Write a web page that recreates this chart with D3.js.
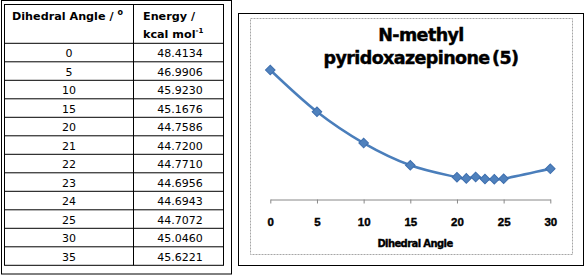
<!DOCTYPE html>
<html>
<head>
<meta charset="utf-8">
<script src="https://cdn.jsdelivr.net/npm/d3@7"></script>
<style>
  body { margin: 0; background: #fff; }
  svg { display: block; }
</style>
</head>
<body>
<div class="svg-container"></div>
<script>
// table + chart data
const angles = [0, 5, 10, 15, 20, 21, 22, 23, 24, 25, 30, 35];
const energies = [48.4134, 46.9906, 45.9230, 45.1676, 44.7586, 44.7200, 44.7710, 44.6956, 44.6943, 44.7072, 45.0460, 45.6221];
const xTicks = [0, 5, 10, 15, 20, 25, 30];
const chartTitle = ["N-methyl", "pyridoxazepinone (5)"];
const xTitle = "Dihedral Angle";
const maxPlotted = 30;

const W = 586, H = 277;
const svg = d3.select("div.svg-container").append("svg")
    .attr("width", W).attr("height", H);

// ---- table ----
const tbl = { left: 4.5, top: 4.5, right: 223.5, headH: 38.8, rowH: 18.5, split: 133.5 };
const tblBottom = tbl.top + tbl.headH + angles.length * tbl.rowH;

svg.append("rect").attr("x", 1.5).attr("y", 0.5).attr("width", 230).attr("height", 273.5)
    .attr("fill", "none").attr("stroke", "#000");

const t = svg.append("g").attr("font-family", "DejaVu Sans, sans-serif").attr("fill", "#000");

t.append("rect").attr("x", tbl.left).attr("y", tbl.top)
    .attr("width", tbl.right - tbl.left).attr("height", tblBottom - tbl.top)
    .attr("fill", "none").attr("stroke", "#000");
t.append("line").attr("x1", tbl.split).attr("x2", tbl.split)
    .attr("y1", tbl.top).attr("y2", tblBottom).attr("stroke", "#000");

const rowY = i => tbl.top + tbl.headH + i * tbl.rowH;
t.selectAll("line.row").data(angles).join("line").attr("class", "row")
    .attr("x1", tbl.left).attr("x2", tbl.right)
    .attr("y1", (d, i) => rowY(i)).attr("y2", (d, i) => rowY(i))
    .attr("stroke", "#000");

// header
const h1 = t.append("text").attr("x", 12).attr("y", 20).attr("font-size", 11.2).attr("font-weight", "bold");
h1.append("tspan").text("Dihedral Angle / ");
h1.append("tspan").attr("font-size", 8).attr("dy", -5).text("o");

t.append("text").attr("x", 143).attr("y", 20).attr("font-size", 11.2).attr("font-weight", "bold").text("Energy /");
const h2 = t.append("text").attr("x", 143).attr("y", 38).attr("font-size", 11.2).attr("font-weight", "bold");
h2.append("tspan").text("kcal mol");
h2.append("tspan").attr("font-size", 7).attr("dy", -5).text("-1");

t.selectAll("text.ang").data(angles).join("text").attr("class", "ang")
    .attr("x", (tbl.left + tbl.split) / 2).attr("y", (d, i) => rowY(i) + 14)
    .attr("text-anchor", "middle").attr("font-size", 11).text(d => d);
t.selectAll("text.en").data(energies).join("text").attr("class", "en")
    .attr("x", 180).attr("y", (d, i) => rowY(i) + 14)
    .attr("text-anchor", "middle").attr("font-size", 11).text(d => d.toFixed(4));

// ---- chart ----
svg.append("rect").attr("x", 238.5).attr("y", 13.5).attr("width", 345).attr("height", 252)
    .attr("fill", "#fff").attr("stroke", "#000");
svg.append("rect").attr("x", 250.5).attr("y", 18.5).attr("width", 322).attr("height", 236)
    .attr("fill", "none").attr("stroke", "#a6a6a6").attr("stroke-dasharray", "2,1");

const x = d3.scaleLinear().domain([0, 30]).range([270.3, 550.3]);
const y = d3.scaleLinear().domain([44, 49]).range([199.5, 52.8]);

const title = svg.append("text").attr("text-anchor", "middle")
    .attr("font-family", "DejaVu Sans, sans-serif").attr("font-weight", "bold")
    .attr("font-size", 17.5).attr("letter-spacing", -0.6).attr("word-spacing", -3)
    .attr("stroke", "#000").attr("stroke-width", 0.45);
title.selectAll("tspan").data(chartTitle).join("tspan")
    .attr("x", 421).attr("y", (d, i) => 41 + i * 23).text(d => d);

const xAxis = d3.axisBottom(x).tickValues(xTicks).tickSize(4).tickSizeOuter(0);
const xAxisG = svg.append("g").attr("transform", `translate(0, ${y(44)})`).call(xAxis);
xAxisG.select(".domain").attr("stroke", "#888");
xAxisG.selectAll(".tick line").attr("stroke", "#888");
xAxisG.selectAll(".tick text")
    .attr("y", 22).attr("dy", "0.35em")
    .attr("font-family", "Liberation Sans, Arial, sans-serif")
    .attr("font-weight", "bold").attr("font-size", 11.5).attr("fill", "#000")
    .attr("stroke", "#000").attr("stroke-width", 0.4);

svg.append("text").attr("x", 415).attr("y", 247).attr("text-anchor", "middle")
    .attr("font-family", "DejaVu Sans, sans-serif").attr("font-weight", "bold")
    .attr("font-size", 10).attr("letter-spacing", -0.6)
    .attr("stroke", "#000").attr("stroke-width", 0.35).text(xTitle);

const pts = angles.map((a, i) => ({ a: a, e: energies[i] })).filter(d => d.a <= maxPlotted);

const line = d3.line().x(d => x(d.a)).y(d => y(d.e)).curve(d3.curveCardinal.tension(0));
svg.append("path").datum(pts).attr("d", line)
    .attr("fill", "none").attr("stroke", "#4a7ebb").attr("stroke-width", 2.5);

svg.selectAll("path.mark").data(pts).join("path").attr("class", "mark")
    .attr("d", d3.symbol(d3.symbolSquare, 46))
    .attr("transform", d => `translate(${x(d.a)},${y(d.e)}) rotate(45)`)
    .attr("fill", "#4f81bd").attr("stroke", "#3f6fae").attr("stroke-width", 1);
</script>
</body>
</html>
